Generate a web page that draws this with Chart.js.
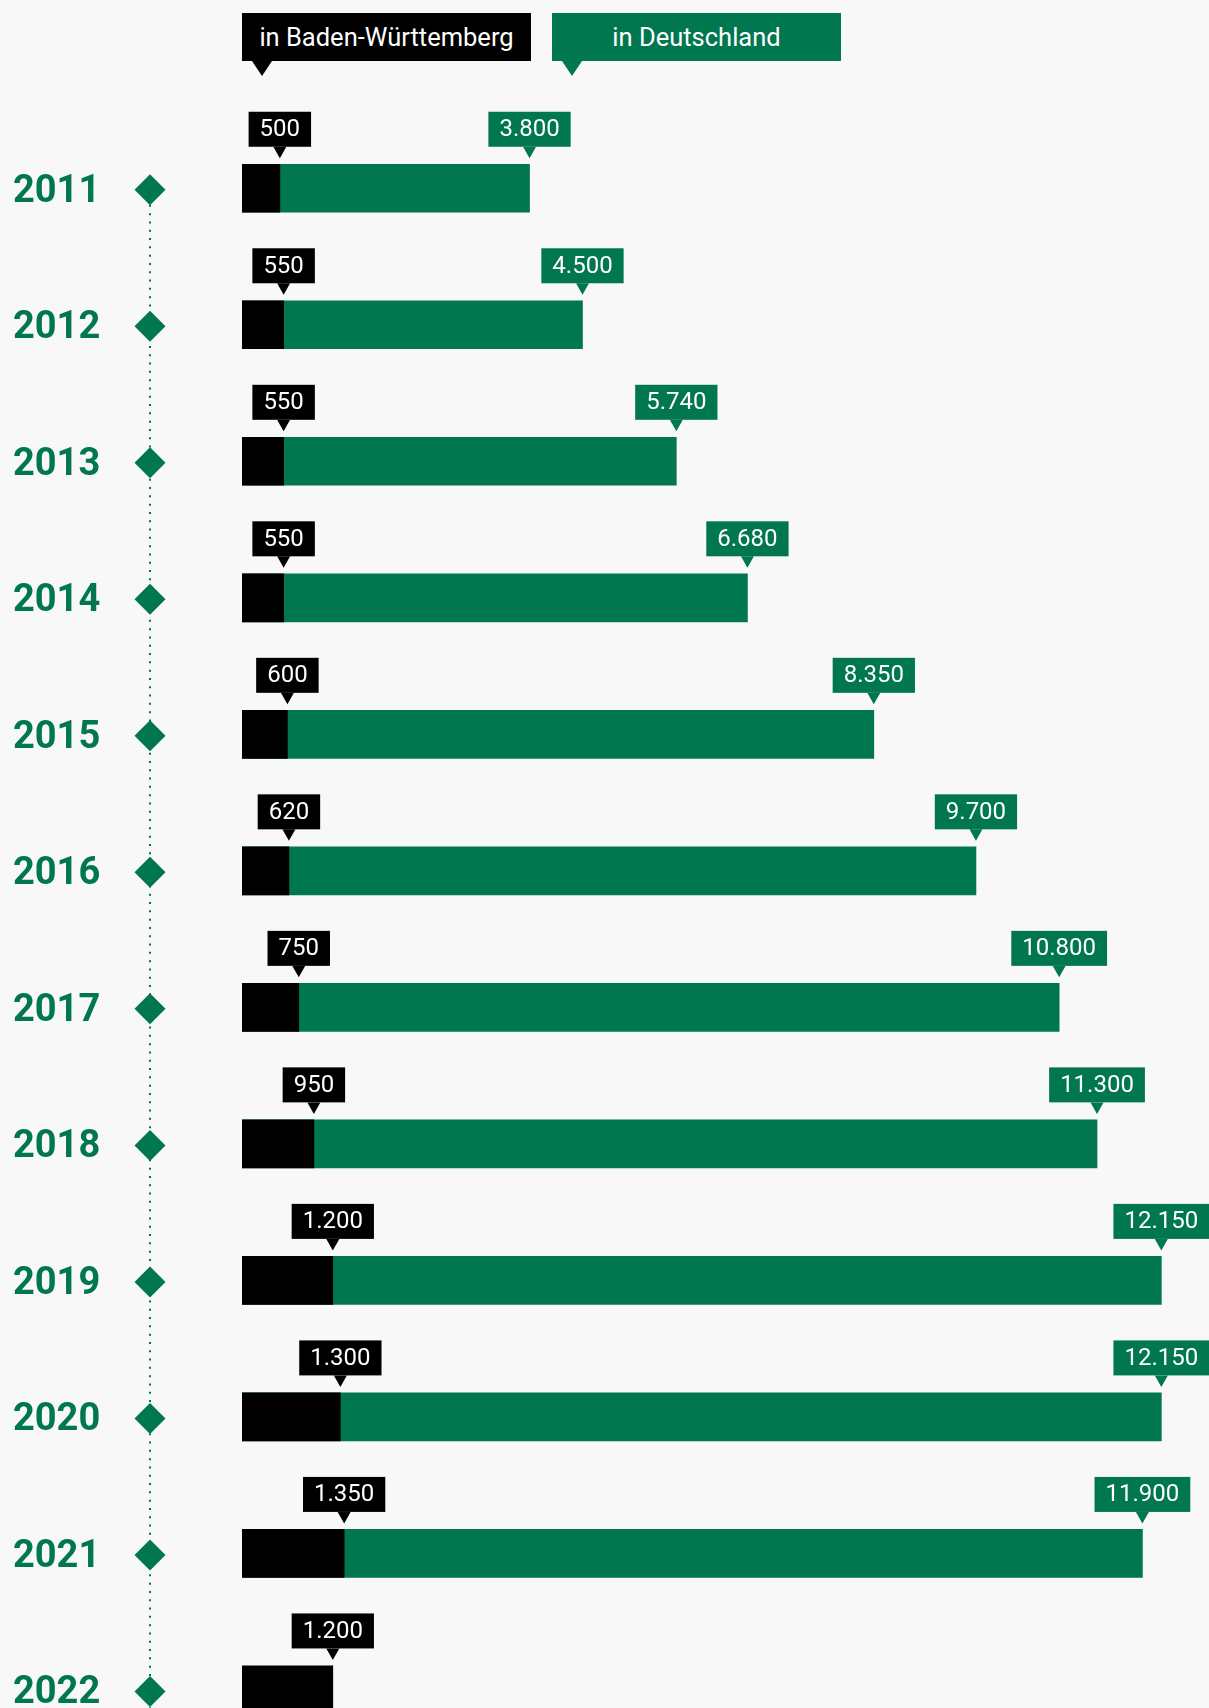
<!DOCTYPE html>
<html lang="de">
<head>
<meta charset="utf-8">
<title>Baden-Württemberg und Deutschland</title>
<script src="https://cdn.jsdelivr.net/npm/chart.js@4.4.1/dist/chart.umd.min.js"></script>
<style>
  html, body { margin: 0; padding: 0; background: #f8f8f8; overflow: hidden; }
  #wrap { position: relative; width: 1209px; height: 1784px; }
  .key {
    position: absolute; top: 13px; width: 289px; height: 48px;
    color: #fff; font: 25.5px Roboto, sans-serif; line-height: 48px; text-align: center;
  }
  .key::after {
    content: ''; position: absolute; left: 10px; top: 48px;
    border-left: 10px solid transparent; border-right: 10px solid transparent;
    border-top: 15px solid;
  }
  .key.bw { left: 242px; background: #000; }
  .key.bw::after { border-top-color: #000; }
  .key.de { left: 552px; background: #00774f; }
  .key.de::after { border-top-color: #00774f; }
</style>
</head>
<body>
<div id="wrap">
  <canvas id="chart"></canvas>
  <div class="key bw">in Baden-Württemberg</div>
  <div class="key de">in Deutschland</div>
</div>
<script>
const years = ['2011', '2012', '2013', '2014', '2015', '2016', '2017', '2018', '2019', '2020', '2021', '2022'];
const inBW = [500, 550, 550, 550, 600, 620, 750, 950, 1200, 1300, 1350, 1200];
const inDE = [3800, 4500, 5740, 6680, 8350, 9700, 10800, 11300, 12150, 12150, 11900, null];

const green = '#00774f';

// 12150 -> "12.150"
function fmt(v) {
  return String(v).replace(/\B(?=(\d{3})+(?!\d))/g, '.');
}

function callout(ctx, x, barTop, text, color) {
  ctx.font = '24px Roboto, sans-serif';
  const w = ctx.measureText(text).width + 22;
  const h = 35;
  const bottom = barTop - 17.5;
  ctx.fillStyle = color;
  ctx.fillRect(x - w / 2, bottom - h, w, h);
  ctx.beginPath();
  ctx.moveTo(x - 6.5, bottom);
  ctx.lineTo(x + 6.5, bottom);
  ctx.lineTo(x, barTop - 6);
  ctx.closePath();
  ctx.fill();
  ctx.fillStyle = '#fff';
  ctx.textAlign = 'center';
  ctx.textBaseline = 'middle';
  ctx.fillText(text, x, bottom - h / 2 + 1);
}

const timeline = {
  id: 'timeline',
  beforeDatasetsDraw(chart) {
    const ctx = chart.ctx;
    const y = chart.scales.y;
    const x = 150;
    ctx.save();
    ctx.strokeStyle = green;
    ctx.lineWidth = 2;
    ctx.setLineDash([2, 6.3]);
    ctx.beginPath();
    ctx.moveTo(x, y.getPixelForValue(0));
    ctx.lineTo(x, chart.height);
    ctx.stroke();
    ctx.setLineDash([]);
    ctx.fillStyle = green;
    years.forEach((yr, i) => {
      const cy = y.getPixelForValue(i) + 1.5;
      ctx.beginPath();
      ctx.moveTo(x, cy - 15.5);
      ctx.lineTo(x + 15.5, cy);
      ctx.lineTo(x, cy + 15.5);
      ctx.lineTo(x - 15.5, cy);
      ctx.closePath();
      ctx.fill();
    });
    ctx.restore();
  },
  afterDatasetsDraw(chart) {
    const ctx = chart.ctx;
    ctx.save();
    chart.data.datasets.forEach((ds, d) => {
      chart.getDatasetMeta(d).data.forEach((bar, i) => {
        const v = ds.data[i];
        if (v == null) return;
        callout(ctx, bar.x, bar.y - bar.height / 2, fmt(v), ds.backgroundColor);
      });
    });
    ctx.restore();
  }
};

let ctx = document.getElementById('chart').getContext('2d');
let chart = new Chart(ctx, {
  type: 'bar',
  data: {
    labels: years,
    datasets: [{
      label: 'in Baden-Württemberg',
      data: inBW,
      backgroundColor: '#000000',
      barThickness: 48,
      grouped: false,
    }, {
      label: 'in Deutschland',
      data: inDE,
      backgroundColor: green,
      barThickness: 48,
      grouped: false,
    }]
  },
  options: {
    indexAxis: 'y',
    responsive: true,
    maintainAspectRatio: false,
    animation: false,
    layout: {
      padding: { left: 13, right: 0, top: 120, bottom: 0 }
    },
    plugins: {
      legend: { display: false },
      tooltip: { enabled: false },
    },
    scales: {
      x: {
        display: false,
        min: 0,
        max: 12780,
      },
      y: {
        grid: { display: false },
        border: { display: false },
        ticks: {
          crossAlign: 'far',
          labelOffset: 4,
          color: green,
          font: { family: 'Roboto', size: 38, weight: 'bold' },
        },
        afterFit(scale) {
          scale.width = 229;
        }
      }
    }
  },
  plugins: [timeline]
});
</script>
</body>
</html>
